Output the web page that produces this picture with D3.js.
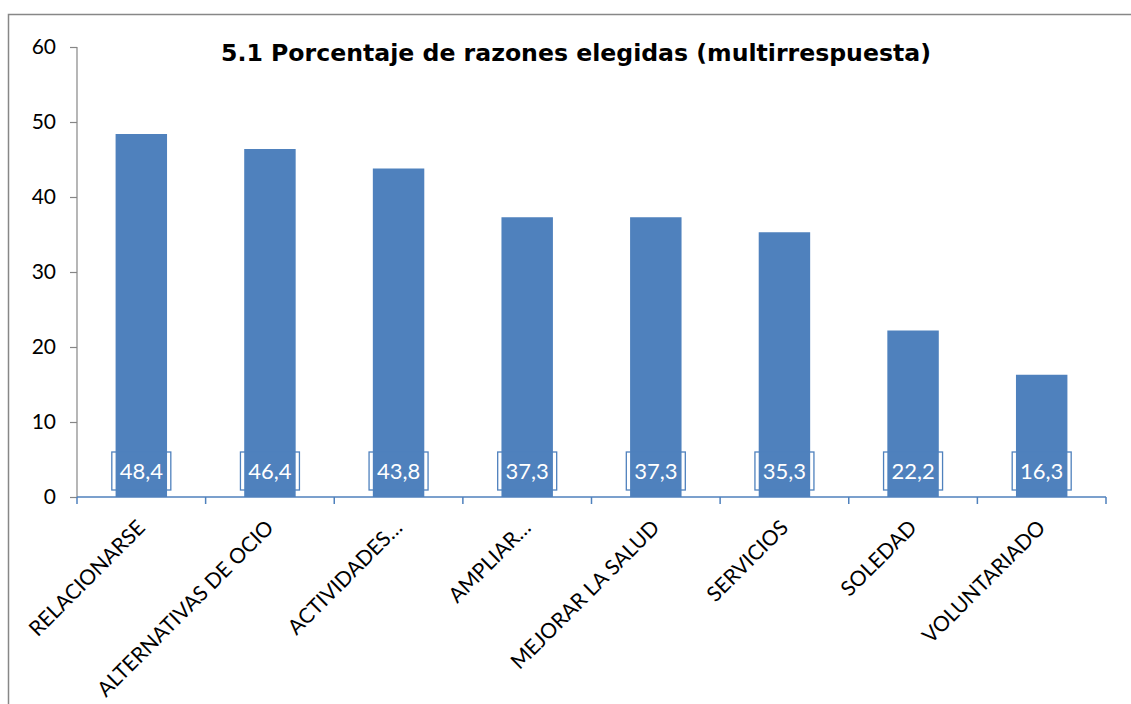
<!DOCTYPE html>
<html>
<head>
<meta charset="utf-8">
<script src="https://cdn.jsdelivr.net/npm/d3@7"></script>
<style>
  body { margin: 0; background: #fff; }
  svg { display: block; font-family: Lato, "Open Sans", sans-serif; }
</style>
</head>
<body>
<svg id="chart" width="1131" height="704"></svg>
<script>
const categories = [
  "RELACIONARSE",
  "ALTERNATIVAS DE OCIO",
  "ACTIVIDADES…",
  "AMPLIAR…",
  "MEJORAR LA SALUD",
  "SERVICIOS",
  "SOLEDAD",
  "VOLUNTARIADO",
];
const values = [48.4, 46.4, 43.8, 37.3, 37.3, 35.3, 22.2, 16.3];
const yTicks = [0, 10, 20, 30, 40, 50, 60];
const title = "5.1 Porcentaje de razones elegidas (multirrespuesta)";

const barColor = "#4f81bd";
const svg = d3.select("#chart");

// outer chart frame (runs off the right and bottom edge)
svg.append("path")
  .attr("d", "M8.5,704 V14.5 H1131")
  .attr("fill", "none")
  .attr("stroke", "#878787")
  .attr("stroke-width", 1.5);

const plot = { left: 77, right: 1106, top: 47, bottom: 497 };

const x = d3.scaleBand()
  .domain(categories)
  .range([plot.left, plot.right])
  .paddingInner(0.6)
  .paddingOuter(0.3);

const y = d3.scaleLinear()
  .domain([0, 60])
  .range([plot.bottom, plot.top]);

// y axis
const yAxis = svg.append("g")
  .attr("transform", `translate(${plot.left},0)`)
  .call(d3.axisLeft(y).tickValues(yTicks).tickSize(7).tickPadding(14));
yAxis.attr("font-family", "Lato, sans-serif");
yAxis.select(".domain")
  .attr("stroke", "#868686")
  .attr("stroke-width", 1.2)
  .attr("d", `M0,${y(60)}V${y(0)}`);
yAxis.selectAll(".tick line").attr("stroke", "#868686").attr("stroke-width", 1.2);
yAxis.selectAll(".tick text")
  .attr("font-size", 21)
  .attr("fill", "#000");

// bars
svg.append("g")
  .selectAll("rect")
  .data(values)
  .join("rect")
  .attr("x", (d, i) => x(categories[i]))
  .attr("y", (d) => y(d))
  .attr("width", x.bandwidth())
  .attr("height", (d) => y(0) - y(d))
  .attr("fill", barColor);

// x axis line + boundary ticks
const step = x.step();
const boundaries = categories.map((c) => x(c) + x.bandwidth() / 2 - step / 2);
boundaries.push(plot.right);
svg.append("line")
  .attr("x1", plot.left).attr("x2", plot.right)
  .attr("y1", plot.bottom).attr("y2", plot.bottom)
  .attr("stroke", barColor).attr("stroke-width", 1.5);
svg.append("g")
  .selectAll("line")
  .data(boundaries)
  .join("line")
  .attr("x1", (d) => d).attr("x2", (d) => d)
  .attr("y1", plot.bottom).attr("y2", plot.bottom + 7)
  .attr("stroke", barColor).attr("stroke-width", 1.5);

// category labels
const xAxis = svg.append("g")
  .attr("transform", `translate(0,${plot.bottom})`)
  .call(d3.axisBottom(x).tickSize(0).tickPadding(0));
xAxis.attr("font-family", "Lato, sans-serif");
xAxis.select(".domain").remove();
xAxis.selectAll(".tick text")
  .attr("font-size", 21)
  .attr("fill", "#000")
  .attr("text-anchor", "end")
  .attr("y", 0)
  .attr("dy", null)
  .attr("transform", "translate(5,32) rotate(-45)");

// value labels in boxes near the base
const labels = svg.append("g")
  .selectAll("g")
  .data(values)
  .join("g")
  .attr("transform", (d, i) => `translate(${x(categories[i]) + x.bandwidth() / 2},${y(0) - 26})`);
labels.append("rect")
  .attr("x", -29.5)
  .attr("y", -19)
  .attr("width", 59)
  .attr("height", 38)
  .attr("fill", "none")
  .attr("stroke", barColor)
  .attr("stroke-width", 1.3);
labels.append("text")
  .attr("text-anchor", "middle")
  .attr("dy", "0.36em")
  .attr("font-size", 22)
  .attr("fill", "#fff")
  .text((d) => d3.format(".1f")(d).replace(".", ","));

// title
svg.append("text")
  .attr("x", 576)
  .attr("y", 61)
  .attr("text-anchor", "middle")
  .attr("font-family", "'DejaVu Sans', sans-serif")
  .attr("font-size", 23.6)
  .attr("font-weight", "bold")
  .attr("fill", "#000")
  .text(title);
</script>
</body>
</html>
